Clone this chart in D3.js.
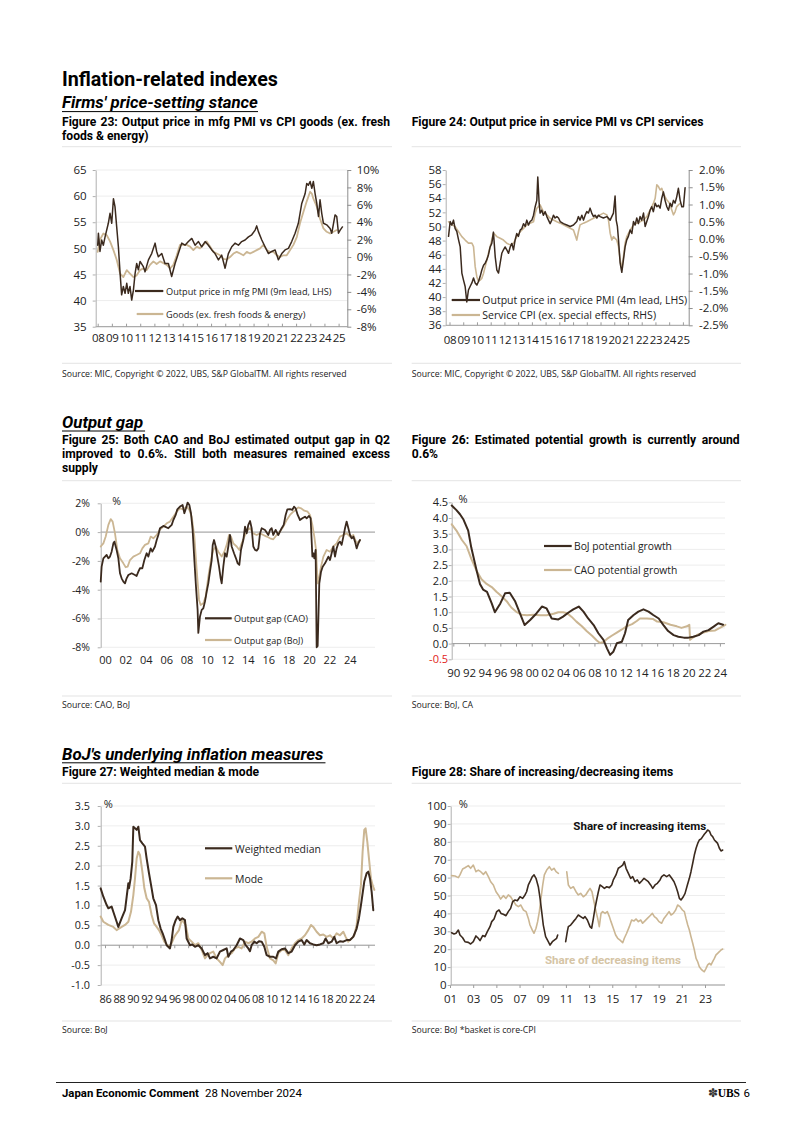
<!DOCTYPE html>
<html><head><meta charset="utf-8">
<script src="https://cdn.jsdelivr.net/npm/d3@7/dist/d3.min.js"></script>
<style>html,body{margin:0;padding:0;background:#fff;} svg{display:block;}</style>
</head><body>
<svg id="page" width="802" height="1134" xmlns="http://www.w3.org/2000/svg"></svg>
<script>
// ================= DATA =================
// Figure 23
const fig23Years = d3.range(2008, 2026);
const fig23LeftTicks = [35, 40, 45, 50, 55, 60, 65];
const fig23RightTicks = [-8, -6, -4, -2, 0, 2, 4, 6, 8, 10];
const mfgPmi = [[2008.00,50.6],[2008.05,52.9],[2008.16,49.4],[2008.28,51.6],[2008.40,50.6],[2008.52,52.2],[2008.75,54.8],[2008.87,56.7],[2008.99,54.8],[2009.11,59.5],[2009.22,58.0],[2009.34,54.1],[2009.46,50.3],[2009.58,45.2],[2009.69,41.1],[2009.81,42.7],[2009.93,41.4],[2010.05,43.3],[2010.16,41.4],[2010.28,42.7],[2010.40,40.1],[2010.52,42.0],[2010.64,45.2],[2010.75,47.1],[2010.87,45.9],[2010.99,47.5],[2011.22,46.5],[2011.34,45.5],[2011.58,47.8],[2011.81,49.0],[2012.05,51.0],[2012.16,49.4],[2012.28,48.4],[2012.52,49.0],[2012.75,47.1],[2012.99,47.1],[2013.22,44.6],[2013.46,47.1],[2013.69,49.0],[2013.93,51.0],[2014.16,50.6],[2014.40,51.3],[2014.64,51.9],[2014.87,50.6],[2015.11,51.3],[2015.34,50.3],[2015.58,51.3],[2015.81,50.6],[2016.05,49.7],[2016.28,49.0],[2016.52,47.8],[2016.75,48.7],[2016.99,46.2],[2017.22,49.0],[2017.46,50.3],[2017.69,51.0],[2017.93,50.6],[2018.16,51.3],[2018.40,51.6],[2018.64,52.2],[2018.87,52.6],[2019.11,53.5],[2019.22,54.3],[2019.34,53.2],[2019.58,51.6],[2019.81,50.3],[2020.05,49.0],[2020.28,49.4],[2020.52,49.7],[2020.75,47.8],[2020.99,49.0],[2021.22,49.7],[2021.46,50.0],[2021.69,51.3],[2021.93,52.9],[2022.16,54.8],[2022.40,58.6],[2022.64,60.5],[2022.75,62.4],[2022.87,62.1],[2022.99,62.8],[2023.11,61.5],[2023.22,62.8],[2023.34,60.5],[2023.46,58.6],[2023.58,56.1],[2023.69,59.3],[2023.81,56.7],[2023.93,54.8],[2024.16,54.5],[2024.40,53.8],[2024.52,52.9],[2024.75,56.4],[2024.87,56.1],[2024.99,52.9],[2025.11,53.5],[2025.27,54.1]];
const cpiGoods = [[2008.00,0.6],[2008.16,2.0],[2008.40,2.7],[2008.64,2.5],[2008.87,1.8],[2009.11,0.8],[2009.34,-0.3],[2009.58,-1.9],[2009.81,-2.3],[2010.05,-1.5],[2010.28,-1.9],[2010.52,-2.3],[2010.75,-2.1],[2010.99,-1.5],[2011.22,-1.3],[2011.46,-1.5],[2011.69,-0.9],[2011.93,-0.5],[2012.16,-0.8],[2012.40,-0.5],[2012.64,-0.7],[2012.87,-0.9],[2013.11,-1.3],[2013.34,-0.9],[2013.58,0.2],[2013.81,1.4],[2014.05,1.4],[2014.28,1.4],[2014.52,1.2],[2014.75,0.8],[2014.99,1.2],[2015.22,1.0],[2015.46,1.4],[2015.69,1.8],[2015.93,1.2],[2016.16,0.6],[2016.40,0.4],[2016.64,0.2],[2016.87,-0.2],[2017.11,-0.3],[2017.34,0.0],[2017.58,0.4],[2017.81,0.6],[2018.05,0.4],[2018.28,0.2],[2018.52,0.6],[2018.75,0.4],[2018.99,0.6],[2019.22,0.8],[2019.46,1.0],[2019.69,1.4],[2019.93,0.8],[2020.16,0.6],[2020.40,0.6],[2020.64,0.2],[2020.87,0.0],[2021.11,0.2],[2021.34,0.2],[2021.58,0.8],[2021.81,1.4],[2022.05,2.3],[2022.28,3.9],[2022.52,5.2],[2022.75,6.4],[2022.99,7.5],[2023.11,7.3],[2023.22,6.7],[2023.46,5.8],[2023.69,4.4],[2023.93,3.3],[2024.16,2.9],[2024.40,2.7],[2024.64,2.9],[2024.87,3.1]];

// Figure 24
const fig24Years = d3.range(2008, 2026);
const fig24LeftTicks = d3.range(36, 59, 2);
const fig24RightTicks = [-2.5, -2.0, -1.5, -1.0, -0.5, 0.0, 0.5, 1.0, 1.5, 2.0];
const svcPmi = [[2007.93,48.6],[2008.05,50.7],[2008.17,50.2],[2008.29,50.9],[2008.41,49.7],[2008.53,49.3],[2008.66,48.1],[2008.78,47.1],[2008.90,43.4],[2009.02,42.4],[2009.14,41.5],[2009.26,39.3],[2009.38,41.0],[2009.50,41.5],[2009.63,42.0],[2009.75,42.7],[2009.87,42.0],[2009.99,41.7],[2010.11,42.2],[2010.23,42.9],[2010.35,43.8],[2010.48,44.5],[2010.60,44.8],[2010.72,45.3],[2010.84,46.0],[2010.96,47.1],[2011.08,47.6],[2011.20,49.2],[2011.33,45.7],[2011.45,43.8],[2011.57,43.4],[2011.69,44.8],[2011.81,46.2],[2011.93,46.7],[2012.05,47.1],[2012.17,46.7],[2012.30,46.2],[2012.42,47.1],[2012.54,47.6],[2012.66,46.7],[2012.78,48.1],[2012.90,49.0],[2013.02,48.6],[2013.15,49.5],[2013.27,49.7],[2013.39,50.4],[2013.51,50.0],[2013.63,50.9],[2013.75,50.2],[2013.87,50.7],[2014.00,50.9],[2014.12,51.6],[2014.24,52.8],[2014.36,53.7],[2014.43,57.0],[2014.53,53.3],[2014.60,51.9],[2014.72,52.3],[2014.84,51.6],[2014.97,52.1],[2015.09,51.4],[2015.21,50.9],[2015.33,50.4],[2015.45,50.9],[2015.57,51.6],[2015.69,51.2],[2015.82,51.4],[2015.94,51.2],[2016.06,50.7],[2016.30,50.4],[2016.54,50.2],[2016.79,50.0],[2017.03,50.2],[2017.27,50.7],[2017.39,51.4],[2017.51,50.9],[2017.64,51.6],[2017.76,50.9],[2017.88,51.6],[2018.00,52.1],[2018.12,51.9],[2018.24,52.6],[2018.36,51.9],[2018.49,51.4],[2018.61,51.6],[2018.73,51.2],[2018.85,51.6],[2018.97,51.4],[2019.21,51.2],[2019.46,51.4],[2019.70,50.9],[2019.82,51.4],[2019.94,51.9],[2020.06,54.3],[2020.14,50.9],[2020.23,50.0],[2020.31,48.1],[2020.43,44.8],[2020.55,43.5],[2020.67,45.3],[2020.79,47.1],[2020.91,48.1],[2021.03,48.6],[2021.16,49.5],[2021.28,49.0],[2021.40,50.7],[2021.52,50.2],[2021.64,51.2],[2021.76,50.4],[2021.88,51.4],[2022.00,50.9],[2022.13,51.9],[2022.25,50.0],[2022.37,50.7],[2022.49,51.4],[2022.61,52.3],[2022.73,52.8],[2022.85,52.1],[2022.98,53.3],[2023.10,52.8],[2023.22,53.0],[2023.34,52.6],[2023.46,54.0],[2023.58,54.9],[2023.70,53.7],[2023.83,52.8],[2023.95,52.3],[2024.07,53.3],[2024.19,52.8],[2024.31,53.7],[2024.43,53.3],[2024.55,54.2],[2024.67,55.4],[2024.80,53.7],[2024.92,52.8],[2025.04,52.8],[2025.16,55.5]];
const svcCpi = [[2007.93,0.50],[2008.17,0.41],[2008.41,0.36],[2008.66,0.21],[2008.90,0.07],[2009.14,-0.03],[2009.38,-0.12],[2009.63,-0.12],[2009.75,-0.22],[2009.87,-0.80],[2009.99,-1.09],[2010.11,-1.23],[2010.23,-1.19],[2010.35,-1.14],[2010.48,-0.99],[2010.60,-0.80],[2010.72,-0.61],[2010.84,-0.41],[2010.96,-0.22],[2011.08,-0.03],[2011.20,0.17],[2011.33,0.12],[2011.45,0.07],[2011.69,0.02],[2011.93,-0.03],[2012.17,-0.12],[2012.42,-0.17],[2012.66,-0.12],[2012.78,-0.03],[2012.90,0.07],[2013.15,0.21],[2013.39,0.31],[2013.63,0.41],[2013.87,0.46],[2014.12,0.50],[2014.24,0.75],[2014.36,0.89],[2014.48,0.94],[2014.60,0.99],[2014.72,0.89],[2014.84,0.79],[2015.09,0.70],[2015.33,0.60],[2015.57,0.55],[2015.82,0.50],[2016.06,0.46],[2016.30,0.41],[2016.54,0.36],[2016.79,0.31],[2017.03,0.26],[2017.15,0.12],[2017.27,-0.03],[2017.39,0.21],[2017.51,0.41],[2017.76,0.46],[2018.00,0.50],[2018.24,0.55],[2018.49,0.60],[2018.73,0.65],[2018.97,0.70],[2019.21,0.75],[2019.46,0.70],[2019.58,0.55],[2019.70,0.17],[2019.82,-0.03],[2019.94,0.07],[2020.06,0.02],[2020.18,-0.03],[2020.31,-0.22],[2020.43,-0.61],[2020.55,-0.85],[2020.67,-0.51],[2020.79,-0.12],[2020.91,0.07],[2021.16,0.26],[2021.40,0.41],[2021.64,0.46],[2021.88,0.50],[2022.13,0.55],[2022.37,0.65],[2022.61,0.84],[2022.85,1.03],[2022.98,1.18],[2023.10,1.57],[2023.22,1.52],[2023.34,1.42],[2023.46,1.47],[2023.58,1.32],[2023.70,1.23],[2023.83,1.13],[2023.95,1.08],[2024.07,0.99],[2024.19,0.84],[2024.31,0.70],[2024.43,0.79],[2024.55,0.94],[2024.67,0.99],[2024.80,1.03]];

// Figure 25
const fig25Years = d3.range(2000, 2025, 2);
const fig25Ticks = [-8, -6, -4, -2, 0, 2];
const gapCao = [[1999.58,-3.44],[1999.67,-2.4],[1999.84,-1.82],[2000.0,-1.7],[2000.16,-1.59],[2000.33,-1.82],[2000.49,-1.7],[2000.65,-1.36],[2000.82,-0.78],[2000.92,-0.66],[2001.14,-1.24],[2001.31,-1.82],[2001.47,-2.86],[2001.63,-3.21],[2001.8,-3.44],[2001.96,-3.56],[2002.12,-3.21],[2002.29,-2.98],[2002.61,-2.86],[2002.94,-2.98],[2003.1,-3.05],[2003.27,-2.75],[2003.43,-2.51],[2003.66,-2.51],[2003.86,-1.94],[2004.08,-1.47],[2004.25,-1.7],[2004.48,-1.13],[2004.64,-1.36],[2004.9,-1.0],[2005.07,-0.55],[2005.23,-0.2],[2005.39,0.27],[2005.72,0.43],[2005.88,0.38],[2006.21,0.27],[2006.54,0.5],[2006.7,0.84],[2006.93,1.19],[2007.09,1.58],[2007.35,1.77],[2007.61,1.88],[2007.78,1.31],[2007.94,1.65],[2008.1,2.05],[2008.27,1.88],[2008.43,1.31],[2008.59,0.15],[2008.76,-1.94],[2008.92,-3.79],[2009.08,-5.4],[2009.15,-7.0],[2009.31,-5.87],[2009.48,-5.4],[2009.64,-5.29],[2009.8,-4.83],[2009.97,-4.13],[2010.13,-3.56],[2010.29,-2.75],[2010.46,-1.94],[2010.56,-0.89],[2010.69,-0.55],[2010.85,-1.0],[2011.01,-1.7],[2011.18,-2.4],[2011.34,-3.21],[2011.44,-3.56],[2011.6,-2.4],[2011.76,-1.47],[2011.93,-1.7],[2012.09,-1.0],[2012.25,-0.2],[2012.42,-1.0],[2012.65,-1.47],[2012.84,-1.82],[2013.01,-2.17],[2013.17,-2.28],[2013.33,-1.24],[2013.56,-0.55],[2013.73,0.38],[2013.89,-0.09],[2014.05,0.5],[2014.22,0.77],[2014.38,0.27],[2014.54,-1.0],[2014.71,-1.24],[2014.87,-1.29],[2015.03,-1.13],[2015.2,-0.09],[2015.36,0.27],[2015.69,0.15],[2016.01,-0.2],[2016.18,0.15],[2016.34,0.27],[2016.5,-0.2],[2016.73,0.15],[2016.99,-0.2],[2017.32,0.27],[2017.52,0.5],[2017.71,1.19],[2017.88,1.58],[2018.14,1.6],[2018.37,1.54],[2018.53,1.77],[2018.69,1.65],[2018.89,1.19],[2019.12,0.84],[2019.35,0.96],[2019.61,1.07],[2019.77,0.96],[2020.0,1.12],[2020.16,0.96],[2020.33,-1.7],[2020.42,-1.47],[2020.52,-1.82],[2020.65,-1.24],[2020.75,-8.0],[2020.85,-7.9],[2021.01,-3.56],[2021.18,-2.75],[2021.34,-2.4],[2021.57,-2.17],[2021.73,-1.94],[2021.9,-1.7],[2022.06,-1.94],[2022.22,-1.47],[2022.39,-1.0],[2022.55,-1.7],[2022.71,-1.13],[2022.88,-0.78],[2023.04,-0.66],[2023.2,-0.89],[2023.37,-0.31],[2023.53,0.27],[2023.69,0.73],[2023.86,0.27],[2024.02,-0.2],[2024.18,-0.43],[2024.35,-0.31],[2024.51,-0.66],[2024.67,-1.13],[2024.84,-0.78],[2025.0,-0.55]];
const gapBoj = [[1999.58,-1.0],[1999.84,-0.78],[2000.07,-0.31],[2000.33,0.5],[2000.56,0.9],[2000.75,0.73],[2000.98,-0.09],[2001.21,-1.24],[2001.47,-1.82],[2001.8,-2.17],[2002.03,-2.44],[2002.22,-2.4],[2002.45,-1.94],[2002.78,-1.7],[2003.1,-1.59],[2003.43,-1.47],[2003.66,-1.13],[2003.92,-0.89],[2004.25,-0.78],[2004.48,-0.31],[2004.74,-0.43],[2005.07,-0.2],[2005.39,0.18],[2005.72,0.38],[2006.05,0.61],[2006.37,0.73],[2006.7,1.07],[2007.03,1.42],[2007.35,1.65],[2007.68,1.58],[2008.01,1.77],[2008.27,1.54],[2008.5,1.07],[2008.76,-0.31],[2008.99,-2.63],[2009.22,-4.71],[2009.38,-5.06],[2009.64,-4.94],[2009.87,-4.48],[2010.13,-3.09],[2010.39,-1.94],[2010.62,-1.24],[2010.85,-1.0],[2011.11,-1.36],[2011.44,-1.7],[2011.7,-1.36],[2011.93,-0.89],[2012.16,-0.2],[2012.35,-0.31],[2012.58,-0.78],[2012.91,-1.0],[2013.17,-1.24],[2013.4,-0.78],[2013.73,-0.2],[2013.99,0.15],[2014.22,0.27],[2014.54,-0.09],[2014.87,-0.2],[2015.2,-0.09],[2015.52,-0.2],[2015.85,-0.31],[2016.18,-0.43],[2016.5,-0.5],[2016.83,-0.2],[2017.16,0.04],[2017.48,0.38],[2017.81,0.84],[2018.14,1.19],[2018.46,1.42],[2018.69,1.54],[2018.95,1.72],[2019.22,1.65],[2019.54,1.49],[2019.87,1.42],[2020.1,1.19],[2020.33,0.5],[2020.52,-0.31],[2020.69,-1.24],[2020.85,-3.56],[2021.01,-3.09],[2021.18,-2.4],[2021.41,-1.7],[2021.73,-1.24],[2022.06,-1.36],[2022.39,-1.0],[2022.71,-0.78],[2023.04,-0.31],[2023.37,-0.2],[2023.69,-0.09],[2024.02,-0.31],[2024.35,-0.2],[2024.67,-0.78],[2025.0,-0.55]];

// Figure 26
const fig26Years = d3.range(1990, 2025, 2);
const fig26Ticks = [-0.5, 0.0, 0.5, 1.0, 1.5, 2.0, 2.5, 3.0, 3.5, 4.0, 4.5];
const potBoj = [[1989.8,4.4],[1990.4,4.25],[1990.85,4.12],[1991.3,3.95],[1991.9,3.6],[1992.3,3.05],[1993.0,2.3],[1993.4,1.9],[1993.8,1.72],[1994.3,1.65],[1994.9,1.28],[1995.3,1.0],[1996.0,1.28],[1996.6,1.6],[1997.2,1.62],[1997.9,1.34],[1998.5,0.96],[1999.1,0.59],[1999.8,0.75],[2000.6,0.96],[2001.3,1.18],[2001.9,1.12],[2002.55,0.8],[2003.4,0.77],[2004.0,0.86],[2004.7,0.99],[2005.3,1.09],[2006.0,1.18],[2006.6,1.02],[2007.2,0.8],[2007.9,0.59],[2008.5,0.33],[2009.15,0.12],[2009.6,-0.15],[2010.0,-0.36],[2010.4,-0.26],[2010.85,0.01],[2011.5,0.06],[2011.9,0.33],[2012.3,0.75],[2013.0,0.91],[2013.6,1.02],[2014.25,1.09],[2014.9,1.02],[2015.5,0.91],[2016.2,0.8],[2016.8,0.59],[2017.4,0.4],[2018.1,0.27],[2018.7,0.22],[2019.4,0.19],[2020.0,0.19],[2020.6,0.22],[2021.3,0.27],[2021.9,0.38],[2022.55,0.43],[2023.2,0.54],[2023.8,0.65],[2024.4,0.6]];
const potCao = [[1989.8,3.8],[1990.4,3.6],[1991.1,3.3],[1991.7,3.1],[1992.3,2.7],[1993.0,2.3],[1993.6,2.05],[1994.25,1.9],[1994.9,1.8],[1995.5,1.65],[1996.2,1.5],[1996.8,1.35],[1997.4,1.15],[1998.1,1.0],[1998.7,0.92],[1999.4,0.9],[2000.2,0.92],[2001.1,0.9],[2001.9,0.9],[2002.8,0.95],[2003.4,1.0],[2004.0,1.0],[2004.5,0.97],[2005.1,0.85],[2005.7,0.7],[2006.4,0.55],[2007.0,0.4],[2007.7,0.25],[2008.3,0.1],[2008.7,0.02],[2009.15,0.05],[2009.6,0.15],[2010.2,0.25],[2010.85,0.35],[2011.5,0.45],[2012.1,0.55],[2012.8,0.62],[2013.4,0.72],[2013.8,0.8],[2014.7,0.8],[2015.5,0.78],[2016.0,0.7],[2016.8,0.68],[2017.7,0.6],[2018.5,0.55],[2019.1,0.5],[2019.8,0.55],[2020.1,0.6],[2020.2,0.12],[2020.6,0.2],[2021.3,0.3],[2021.9,0.35],[2022.55,0.4],[2023.4,0.42],[2024.0,0.5],[2024.7,0.6]];

// Figure 27
const fig27Years = d3.range(1986, 2025, 2);
const fig27Ticks = [-1.0, -0.5, 0.0, 0.5, 1.0, 1.5, 2.0, 2.5, 3.0, 3.5];
const wMedian = [[1985.37,1.43],[1985.76,1.22],[1986.24,1.01],[1986.48,0.93],[1986.96,0.97],[1987.2,0.84],[1987.68,0.59],[1987.92,0.46],[1988.41,0.68],[1988.89,0.88],[1989.13,1.22],[1989.37,1.56],[1989.46,1.43],[1989.7,1.68],[1989.94,2.1],[1990.09,2.98],[1990.33,2.94],[1990.57,2.9],[1990.81,2.98],[1991.05,2.64],[1991.39,2.56],[1991.77,2.48],[1992.01,2.18],[1992.35,1.81],[1992.73,1.43],[1992.97,1.18],[1993.36,1.01],[1993.7,0.63],[1994.03,0.42],[1994.32,0.3],[1994.66,0.13],[1994.9,0.0],[1995.38,-0.08],[1995.62,0.13],[1995.86,0.46],[1996.2,0.63],[1996.49,0.72],[1996.82,0.63],[1997.16,0.68],[1997.54,0.63],[1997.78,0.17],[1998.27,0.0],[1998.6,0.02],[1998.99,-0.04],[1999.47,0.0],[1999.95,-0.08],[2000.43,-0.25],[2000.81,-0.2],[2001.15,-0.33],[2001.63,-0.29],[2002.11,-0.33],[2002.59,-0.16],[2003.08,-0.12],[2003.56,-0.08],[2003.8,-0.29],[2004.18,-0.16],[2004.52,-0.12],[2005.0,0.0],[2005.48,0.17],[2005.96,0.13],[2006.3,0.0],[2006.68,-0.08],[2006.92,-0.15],[2007.16,0.0],[2007.55,0.09],[2007.89,0.05],[2008.22,0.1],[2008.61,0.09],[2008.99,-0.04],[2009.33,-0.25],[2009.81,-0.29],[2010.29,-0.29],[2010.68,-0.33],[2011.01,-0.16],[2011.49,-0.1],[2011.97,-0.08],[2012.46,-0.2],[2012.94,-0.16],[2013.42,0.0],[2013.9,0.09],[2014.38,0.13],[2014.76,0.02],[2015.1,0.13],[2015.58,0.05],[2016.06,0.02],[2016.54,0.0],[2017.02,0.02],[2017.51,0.05],[2017.84,0.17],[2018.23,0.05],[2018.71,0.09],[2019.09,0.21],[2019.43,0.05],[2019.91,0.1],[2020.39,0.09],[2020.87,0.13],[2021.35,0.13],[2021.83,0.21],[2022.32,0.42],[2022.65,0.68],[2022.94,1.01],[2023.42,1.6],[2023.76,1.81],[2024.0,1.85],[2024.24,1.68],[2024.48,1.35],[2024.72,0.88]];
const wMode = [[1985.37,0.72],[1985.76,0.59],[1986.48,0.51],[1987.2,0.46],[1987.68,0.38],[1988.02,0.42],[1988.41,0.46],[1988.89,0.51],[1989.37,0.59],[1989.75,0.84],[1990.09,1.26],[1990.33,1.68],[1990.57,2.18],[1990.81,2.35],[1991.05,2.27],[1991.39,1.85],[1991.68,1.43],[1992.01,1.18],[1992.35,1.09],[1992.73,0.76],[1993.07,0.55],[1993.46,0.46],[1993.79,0.38],[1994.18,0.25],[1994.56,0.09],[1994.9,0.02],[1995.24,-0.04],[1995.62,0.05],[1996.0,0.21],[1996.34,0.3],[1996.68,0.38],[1997.06,0.63],[1997.3,0.59],[1997.64,0.51],[1998.03,0.17],[1998.51,0.09],[1998.99,0.0],[1999.47,0.05],[1999.95,-0.12],[2000.43,-0.33],[2000.81,-0.25],[2001.15,-0.2],[2001.63,-0.16],[2002.11,-0.33],[2002.59,-0.42],[2002.98,-0.5],[2003.32,-0.33],[2003.8,-0.25],[2004.28,-0.2],[2004.76,-0.08],[2005.24,-0.04],[2005.72,-0.08],[2006.2,0.09],[2006.68,0.05],[2007.16,0.09],[2007.65,0.17],[2008.13,0.21],[2008.61,0.34],[2008.99,0.3],[2009.33,-0.04],[2009.81,-0.33],[2010.29,-0.38],[2010.63,-0.46],[2011.01,-0.2],[2011.49,-0.12],[2011.97,-0.12],[2012.46,-0.25],[2012.94,-0.08],[2013.42,0.05],[2013.9,0.13],[2014.38,0.17],[2014.86,0.25],[2015.34,0.38],[2015.73,0.51],[2016.06,0.46],[2016.54,0.34],[2017.02,0.25],[2017.51,0.27],[2017.99,0.21],[2018.47,0.25],[2018.95,0.17],[2019.43,0.3],[2019.91,0.25],[2020.39,0.34],[2020.73,0.21],[2021.11,0.09],[2021.59,0.17],[2021.98,0.25],[2022.32,0.51],[2022.65,1.09],[2022.94,1.51],[2023.18,2.35],[2023.42,2.9],[2023.61,2.94],[2023.86,2.6],[2024.14,2.1],[2024.38,1.68],[2024.62,1.51],[2024.87,1.39]];

// Figure 28
const fig28Years = d3.range(2001, 2024, 2);
const fig28Ticks = d3.range(0, 101, 10);
const shareInc = [[2001.14,29.2],[2001.35,28.5],[2001.52,28.9],[2001.72,30.7],[2001.86,27.9],[2002.09,26.4],[2002.29,24.2],[2002.58,23.8],[2002.78,22.9],[2003.01,24.2],[2003.24,27.4],[2003.44,26.1],[2003.59,24.8],[2003.82,27.6],[2004.02,27.0],[2004.22,29.8],[2004.45,32.6],[2004.6,35.4],[2004.8,36.9],[2005.03,41.0],[2005.23,41.9],[2005.4,40.0],[2005.6,39.5],[2005.83,38.7],[2006.03,41.0],[2006.23,42.8],[2006.41,46.6],[2006.61,47.5],[2006.81,47.1],[2007.04,49.3],[2007.27,48.4],[2007.47,50.3],[2007.61,52.1],[2007.76,55.9],[2007.9,57.7],[2008.1,60.5],[2008.25,61.5],[2008.42,59.6],[2008.62,54.9],[2008.77,48.4],[2008.91,41.0],[2009.05,33.5],[2009.25,27.0],[2009.48,24.2],[2009.63,22.3],[2009.83,24.2],[2010.0,25.1],[2010.2,26.1],[2010.29,27.9],[2010.5,null],[2010.98,24.2],[2011.12,29.8],[2011.21,32.6],[2011.41,33.5],[2011.64,35.4],[2011.87,37.2],[2012.07,39.1],[2012.27,38.2],[2012.5,37.2],[2012.65,38.2],[2012.85,36.3],[2013.08,32.6],[2013.22,31.7],[2013.37,37.2],[2013.51,42.8],[2013.65,47.5],[2013.8,52.1],[2013.94,55.9],[2014.14,54.9],[2014.32,54.0],[2014.52,54.9],[2014.75,54.4],[2014.95,55.9],[2015.09,58.7],[2015.32,61.5],[2015.52,65.2],[2015.73,66.1],[2015.9,67.0],[2016.04,68.9],[2016.19,65.2],[2016.39,62.4],[2016.59,59.6],[2016.76,60.5],[2016.96,57.7],[2017.16,58.7],[2017.34,56.8],[2017.54,58.1],[2017.74,59.6],[2017.91,58.7],[2018.11,57.7],[2018.31,55.9],[2018.49,54.0],[2018.69,55.9],[2018.89,56.8],[2019.12,58.7],[2019.26,60.5],[2019.46,61.5],[2019.69,60.5],[2019.92,61.5],[2020.13,59.6],[2020.33,57.7],[2020.5,54.9],[2020.64,52.1],[2020.79,48.4],[2020.93,47.5],[2021.13,49.3],[2021.28,51.2],[2021.48,55.9],[2021.65,59.6],[2021.79,63.3],[2021.94,68.0],[2022.08,72.6],[2022.23,76.4],[2022.37,79.1],[2022.51,81.0],[2022.66,81.6],[2022.8,82.9],[2022.94,84.2],[2023.09,85.3],[2023.23,86.6],[2023.38,86.0],[2023.52,83.8],[2023.66,82.9],[2023.81,81.0],[2023.95,80.1],[2024.09,79.1],[2024.24,76.4],[2024.38,74.9],[2024.53,75.4]];
const shareDec = [[2001.14,61.1],[2001.43,60.9],[2001.72,60.0],[2001.86,61.5],[2002.09,64.8],[2002.29,65.5],[2002.58,66.7],[2002.78,65.2],[2003.01,67.0],[2003.24,63.3],[2003.44,64.2],[2003.65,63.3],[2003.88,61.8],[2004.08,63.3],[2004.31,60.5],[2004.51,57.7],[2004.74,55.9],[2004.97,52.1],[2005.17,50.3],[2005.37,48.0],[2005.6,49.9],[2005.83,48.4],[2006.03,50.3],[2006.23,49.3],[2006.46,46.9],[2006.69,44.7],[2006.9,43.8],[2007.1,44.7],[2007.33,41.9],[2007.56,41.0],[2007.76,37.2],[2007.9,33.5],[2008.1,30.7],[2008.25,28.9],[2008.42,31.7],[2008.56,35.4],[2008.71,41.0],[2008.85,48.4],[2009.0,55.9],[2009.14,61.5],[2009.34,64.2],[2009.57,66.1],[2009.77,64.2],[2009.97,65.2],[2010.15,63.3],[2010.35,62.4],[2010.6,null],[2011.07,63.3],[2011.21,55.9],[2011.41,54.0],[2011.64,54.9],[2011.87,52.1],[2012.07,50.3],[2012.27,51.2],[2012.5,49.3],[2012.71,50.3],[2012.88,52.1],[2013.08,54.0],[2013.25,52.1],[2013.42,46.6],[2013.6,41.0],[2013.74,37.2],[2013.88,32.6],[2014.03,40.0],[2014.17,41.0],[2014.38,40.0],[2014.57,41.0],[2014.75,38.2],[2014.89,35.4],[2015.09,31.7],[2015.29,27.9],[2015.47,26.1],[2015.67,25.1],[2015.9,23.6],[2016.04,26.1],[2016.24,28.9],[2016.47,32.6],[2016.67,36.3],[2016.88,35.8],[2017.05,36.9],[2017.25,35.4],[2017.45,36.3],[2017.62,34.5],[2017.82,35.8],[2018.03,37.2],[2018.26,38.7],[2018.46,40.0],[2018.63,38.2],[2018.83,37.2],[2019.03,35.4],[2019.26,34.5],[2019.46,37.2],[2019.69,39.1],[2019.9,41.0],[2020.07,39.1],[2020.27,40.0],[2020.47,41.9],[2020.64,44.7],[2020.84,43.8],[2021.05,41.9],[2021.22,41.0],[2021.36,37.2],[2021.51,33.5],[2021.65,30.7],[2021.79,27.0],[2021.94,23.3],[2022.08,19.6],[2022.23,14.9],[2022.37,13.0],[2022.51,10.2],[2022.66,8.9],[2022.8,8.0],[2022.94,7.4],[2023.09,9.3],[2023.23,11.2],[2023.38,12.1],[2023.52,11.2],[2023.66,13.0],[2023.81,14.9],[2023.95,16.8],[2024.09,17.7],[2024.24,18.6],[2024.38,19.6],[2024.53,20.1]];

// ================= DRAWING =================
const svg = d3.select('#page');
const FONT = "'Open Sans','Noto Sans',sans-serif";
const BFONT = "Roboto,'Open Sans',sans-serif";
const DARK = '#3b2a1e', TAN = '#cbb693';

function txt(g, x, y, s, o = {}) {
  const t = g.append('text').attr('x', x).attr('y', y).text(s)
    .attr('font-family', o.family || FONT).attr('font-size', o.size || 11)
    .attr('font-weight', o.weight || 'normal').attr('font-style', o.style || 'normal')
    .attr('fill', o.fill || '#000');
  if (o.anchor) t.attr('text-anchor', o.anchor);
  if (o.fit) { const w = t.node().getComputedTextLength(); t.attr('font-size', (o.size || 11) * o.fit / w); }
  if (o.justify) { const w = t.node().getComputedTextLength(); const n = (s.match(/ /g) || []).length; t.style('word-spacing', ((o.justify - w) / n) + 'px'); }
  return t;
}
function hline(x1, x2, y, c, w) { svg.append('line').attr('x1', x1).attr('x2', x2).attr('y1', y).attr('y2', y).attr('stroke', c).attr('stroke-width', w); }
function sizeOf(t) { return +t.attr('font-size'); }

// ---- page headings ----
txt(svg, 62, 86, 'Inflation-related indexes', { size: 18, weight: 700, family: BFONT, fit: 216 });
const h2a = txt(svg, 62, 108.3, "Firms' price-setting stance", { size: 15, weight: 700, style: 'italic', family: BFONT, fit: 196 });
const H2 = sizeOf(h2a);
hline(62, 258, 111.6, '#000', 1);
const h2b = txt(svg, 62, 428, 'Output gap', { size: H2, weight: 700, style: 'italic', family: BFONT });
hline(62, 62 + h2b.node().getComputedTextLength() + 2, 431, '#000', 1);
const h2c = txt(svg, 62, 759.5, "BoJ's underlying inflation measures", { size: H2, weight: 700, style: 'italic', family: BFONT });
hline(62, 62 + h2c.node().getComputedTextLength() + 2, 762.8, '#000', 1);

// ---- figure titles ----
const f24 = txt(svg, 411.7, 125.5, 'Figure 24: Output price in service PMI vs CPI services', { size: 11, weight: 700, family: BFONT, fit: 292 });
const TS = sizeOf(f24);
const T = { size: TS, weight: 700, family: BFONT };
txt(svg, 62, 125.5, 'Figure 23: Output price in mfg PMI vs CPI goods (ex. fresh', { ...T, justify: 328 });
txt(svg, 62, 139.5, 'foods & energy)', T);
txt(svg, 62, 444, 'Figure 25: Both CAO and BoJ estimated output gap in Q2', { ...T, justify: 328 });
txt(svg, 62, 458, 'improved to 0.6%. Still both measures remained excess', { ...T, justify: 328 });
txt(svg, 62, 472, 'supply', T);
txt(svg, 411.7, 443.5, 'Figure 26: Estimated potential growth is currently around', { ...T, justify: 328 });
txt(svg, 411.7, 457.7, '0.6%', T);
txt(svg, 62, 775.5, 'Figure 27: Weighted median & mode', T);
txt(svg, 411.7, 775.5, 'Figure 28: Share of increasing/decreasing items', T);

// ---- separators ----
[146.7, 363.3, 480.7, 696, 783.3, 1021].forEach(y => { hline(62, 392, y, '#dcdcdc', 0.8); hline(411.7, 741, y, '#dcdcdc', 0.8); });

// ---- sources ----
const s1 = txt(svg, 62, 376.5, 'Source: MIC, Copyright © 2022, UBS, S&P GlobalTM. All rights reserved', { size: 8.5, fill: '#222', fit: 285 });
const SS = { size: sizeOf(s1), fill: '#222' };
txt(svg, 411.7, 376.5, 'Source: MIC, Copyright © 2022, UBS, S&P GlobalTM. All rights reserved', SS);
txt(svg, 62, 708.3, 'Source: CAO, BoJ', SS);
txt(svg, 411.7, 708.3, 'Source: BoJ, CA', SS);
txt(svg, 62, 1033, 'Source: BoJ', SS);
txt(svg, 411.7, 1033, 'Source: BoJ *basket is core-CPI', SS);

// ---- footer ----
hline(56, 746, 1082.5, '#222', 1);
txt(svg, 62, 1096.5, 'Japan Economic Comment', { size: 11, weight: 700, family: BFONT, fit: 137 });
txt(svg, 205, 1096.5, '28 November 2024', { size: 11, family: BFONT, fit: 97 });
txt(svg, 750, 1096.5, '6', { size: 11.5, family: BFONT, anchor: 'end' });
txt(svg, 740, 1096.5, 'UBS', { size: 11.5, weight: 700, family: "'Liberation Serif','DejaVu Serif',serif", anchor: 'end' });
txt(svg, 718, 1097, '✽', { size: 12, family: "'DejaVu Sans',sans-serif", anchor: 'end', fill: '#333' });

// ---- chart builder ----
function styleAxis(g, size, col) {
  g.attr('font-family', FONT).attr('font-size', size);
  g.selectAll('text').attr('fill', '#222');
  g.selectAll('line').attr('stroke', col);
  g.selectAll('.domain').attr('stroke', col);
}
function buildChart(c) {
  const g = svg.append('g');
  const x = d3.scaleLinear().domain(c.xLab).range(c.xPix);
  const y = d3.scaleLinear().domain(c.yDom).range(c.yPix);
  const y2 = c.y2Dom ? d3.scaleLinear().domain(c.y2Dom).range(c.yPix) : null;
  const [p0, p1] = c.plotX;
  if (c.grid) g.append('g').selectAll('line').data(c.yTicks).join('line')
    .attr('x1', p0).attr('x2', p1).attr('y1', d => y(d)).attr('y2', d => y(d))
    .attr('stroke', '#e9e9e9').attr('stroke-width', 0.8);
  const by = y(c.baseVal);
  g.append('line').attr('x1', p0).attr('x2', p1).attr('y1', by).attr('y2', by).attr('stroke', '#9c9c9c').attr('stroke-width', 1);
  if (c.baseTick) {
    const ag = g.append('g').attr('transform', `translate(0,${by})`)
      .call(d3.axisBottom(x).tickValues(c.xTicks).tickSizeInner(c.baseTick).tickSizeOuter(0).tickFormat(''));
    ag.select('.domain').remove(); ag.selectAll('line').attr('stroke', '#9c9c9c');
  }
  const lg = g.append('g').attr('transform', `translate(${p0},0)`)
    .call(d3.axisLeft(y).tickValues(c.yTicks).tickSizeInner(3).tickSizeOuter(0).tickPadding(c.yPad).tickFormat(c.yFmt));
  styleAxis(lg, c.yFont, c.leftCol || '#b0b0b0');
  if (c.redNeg) lg.selectAll('text').filter(d => d < 0).attr('fill', '#e2231a');
  if (y2) {
    const rg = g.append('g').attr('transform', `translate(${p1},0)`)
      .call(d3.axisRight(y2).tickValues(c.y2Ticks).tickSizeInner(4).tickSizeOuter(0).tickPadding(c.y2Pad).tickFormat(c.y2Fmt));
    styleAxis(rg, c.yFont, '#8e8e8e');
  }
  const xg = g.append('g').attr('transform', `translate(0,${c.xLabelY})`)
    .call(d3.axisBottom(x).tickValues(c.xTicks).tickSize(0).tickPadding(0).tickFormat(c.xFmt));
  xg.select('.domain').remove();
  styleAxis(xg, c.xFont, '#999');
  xg.selectAll('text').attr('y', 0).attr('dy', 0);
  if (c.xLetter != null) xg.selectAll('text').attr('letter-spacing', c.xLetter);
  c.series.forEach(s => {
    const sy = s.axis === 'R' ? y2 : y;
    const line = d3.line().defined(d => d[1] != null).x(d => x(d[0])).y(d => sy(d[1]));
    g.append('path').attr('d', line(s.data)).attr('fill', 'none').attr('stroke', s.color)
      .attr('stroke-width', s.w).attr('stroke-linejoin', 'round').attr('stroke-linecap', 'round');
  });
  let lsize = null;
  (c.legend || []).forEach((l, i) => {
    g.append('line').attr('x1', l.x1).attr('x2', l.x2).attr('y1', l.y).attr('y2', l.y).attr('stroke', l.color).attr('stroke-width', 2.2);
    const t = txt(g, l.tx, l.y + l.dy, l.label, i === 0 ? { size: 11, fill: '#222', fit: l.fit } : { size: lsize, fill: '#222' });
    if (i === 0) lsize = sizeOf(t);
  });
  (c.pct ? [c.pct] : []).forEach(p => txt(g, p[0], p[1], '%', { size: p[2], fill: '#222', anchor: 'middle' }));
  return { x, y, g };
}
const yy = d => String(d).slice(2);

// Figure 23
buildChart({
  xLab: [2008, 2025], xPix: [97.7, 338.6], yDom: [35, 65], yPix: [326.7, 170],
  y2Dom: [-8, 10], y2Ticks: fig23RightTicks, y2Pad: 5.4, y2Fmt: d => d + '%',
  plotX: [95.7, 347.3], grid: true, yTicks: fig23LeftTicks, yPad: 6, yFmt: d => d, yFont: 11.5,
  baseVal: 35, baseTick: -3, xTicks: fig23Years, xFmt: yy, xLabelY: 342.2, xFont: 11.5, xLetter: -0.3,
  series: [{ data: cpiGoods, axis: 'R', color: TAN, w: 1.8 }, { data: mfgPmi, axis: 'L', color: DARK, w: 1.5 }],
  legend: [
    { x1: 135, x2: 163.3, y: 291, color: DARK, tx: 166, dy: 3.5, label: 'Output price in mfg PMI (9m lead, LHS)', fit: 165.7 },
    { x1: 136.7, x2: 163.3, y: 314, color: TAN, tx: 166, dy: 3.5, label: 'Goods (ex. fresh foods & energy)' }]
});
// Figure 24
buildChart({
  xLab: [2008, 2025], xPix: [449.5, 682.9], yDom: [36, 58], yPix: [325.3, 170],
  y2Dom: [-2.5, 2.0], y2Ticks: fig24RightTicks, y2Pad: 6.3, y2Fmt: d => d.toFixed(1) + '%',
  plotX: [445.7, 688.7], grid: false, yTicks: fig24LeftTicks, yPad: 1, yFmt: d => d, yFont: 11.5,
  baseVal: 36, baseTick: -3, xTicks: fig24Years, xFmt: yy, xLabelY: 344.2, xFont: 11.5, xLetter: -0.3,
  series: [{ data: svcCpi, axis: 'R', color: TAN, w: 1.6 }, { data: svcPmi, axis: 'L', color: DARK, w: 1.5 }],
  legend: [
    { x1: 451.7, x2: 480, y: 300, color: DARK, tx: 482.3, dy: 4, label: 'Output price in service PMI (4m lead, LHS)', fit: 205 },
    { x1: 451.7, x2: 480, y: 315, color: TAN, tx: 482.3, dy: 4, label: 'Service CPI (ex. special effects, RHS)' }]
});
// Figure 25
buildChart({
  xLab: [2000, 2024], xPix: [105, 349.8], yDom: [-8, 2], yPix: [647.3, 503.3],
  plotX: [100.7, 375], grid: true, yTicks: fig25Ticks, yPad: 7.7, yFmt: d => d + '%', yFont: 10.5,
  baseVal: 0, baseTick: 0, xTicks: fig25Years, xFmt: yy, xLabelY: 664, xFont: 11,
  series: [{ data: gapBoj, color: TAN, w: 1.8 }, { data: gapCao, color: DARK, w: 1.8 }],
  legend: [
    { x1: 205, x2: 231.7, y: 618.3, color: DARK, tx: 234, dy: 3.5, label: 'Output gap (CAO)', fit: 74 },
    { x1: 205, x2: 231.7, y: 640, color: TAN, tx: 234, dy: 3.5, label: 'Output gap (BoJ)' }],
  pct: [116.7, 504.5, 10.5]
});
// Figure 26
buildChart({
  xLab: [1990, 2024], xPix: [453.3, 719.9], yDom: [-0.5, 4.5], yPix: [659.3, 502.3],
  plotX: [451.7, 725], grid: true, yTicks: fig26Ticks, yPad: 0.6, yFmt: d => d.toFixed(1), yFont: 11, redNeg: true,
  baseVal: 0, baseTick: 3, xTicks: fig26Years, xFmt: yy, xLabelY: 677.4, xFont: 11.5,
  series: [{ data: potCao, color: TAN, w: 2 }, { data: potBoj, color: DARK, w: 2 }],
  legend: [
    { x1: 544, x2: 571.7, y: 546, color: DARK, tx: 574, dy: 4, label: 'BoJ potential growth', fit: 98 },
    { x1: 544, x2: 571.7, y: 570, color: TAN, tx: 574, dy: 4, label: 'CAO potential growth' }],
  pct: [463, 503, 11]
});
// Figure 27
buildChart({
  xLab: [1986, 2024], xPix: [105, 368.3], yDom: [-1, 3.5], yPix: [985, 806],
  plotX: [100.7, 375], grid: true, yTicks: fig27Ticks, yPad: 7.7, yFmt: d => d.toFixed(1), yFont: 10.8,
  baseVal: 0, baseTick: 3, xTicks: fig27Years, xFmt: yy, xLabelY: 1003, xFont: 11, xLetter: -0.4,
  series: [{ data: wMode, color: TAN, w: 2 }, { data: wMedian, color: DARK, w: 2 }],
  legend: [
    { x1: 205, x2: 232.3, y: 848.3, color: DARK, tx: 235, dy: 4.2, label: 'Weighted median', fit: 86 },
    { x1: 205, x2: 232.3, y: 878.3, color: TAN, tx: 235, dy: 4.2, label: 'Mode' }],
  pct: [108.3, 808, 11]
});
// Figure 28
const c28 = buildChart({
  xLab: [2001, 2023], xPix: [450, 705], yDom: [0, 100], yPix: [985, 806],
  plotX: [450.7, 725], grid: true, yTicks: fig28Ticks, yPad: 1, yFmt: d => d, yFont: 11.5,
  baseVal: 0, baseTick: 3, xTicks: fig28Years, xFmt: yy, xLabelY: 1003, xFont: 11.5,
  series: [{ data: shareDec, color: TAN, w: 1.6 }, { data: shareInc, color: DARK, w: 1.6 }],
  pct: [463.3, 808, 11]
});
txt(c28.g, 573.3, 829.5, 'Share of increasing items', { size: 11, weight: 700, family: BFONT, fill: '#111', fit: 133 });
txt(c28.g, 545, 963.5, 'Share of decreasing items', { size: 11, weight: 700, family: BFONT, fill: '#d5c4a5', fit: 136 });
</script>
</body></html>
